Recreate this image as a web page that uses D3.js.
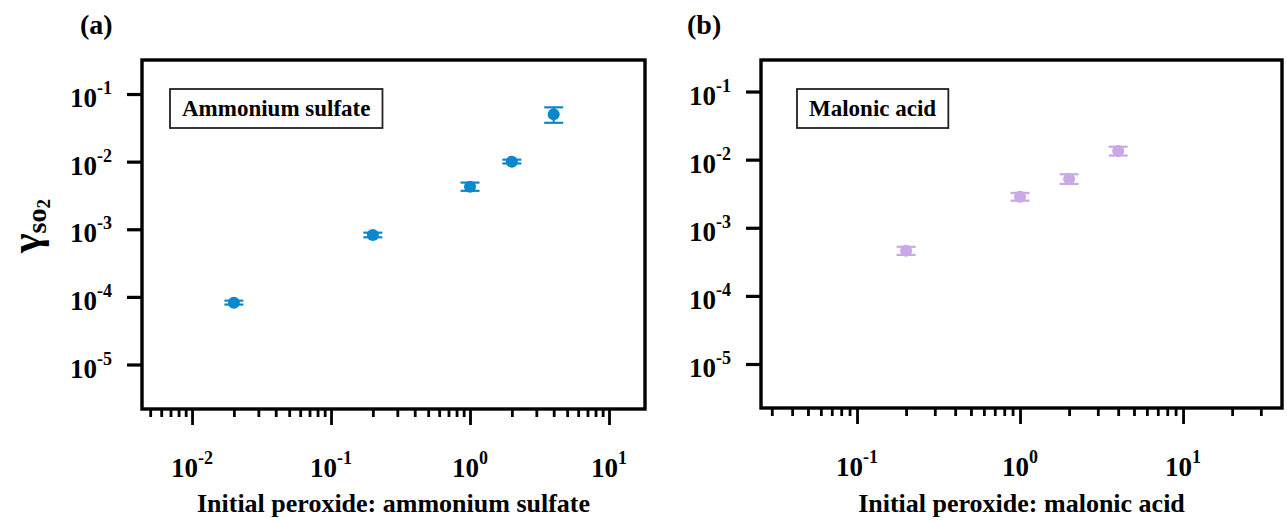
<!DOCTYPE html>
<html>
<head>
<meta charset="utf-8">
<script src="https://d3js.org/d3.v7.min.js"></script>
<style>
    body { margin: 0; background: #fff; }
    svg text { font-family: "Liberation Serif", "Times New Roman", serif; font-weight: bold; fill: #000; }
</style>
</head>
<body>
<div id="chart"></div>
<script>
// Data
const sulfateX = [0.02, 0.2, 1, 2, 4];
const sulfateY = [8.2e-5, 8.2e-4, 4.25e-3, 1.0e-2, 5.0e-2];
const sulfateLo = [7.7e-5, 7.6e-4, 3.7e-3, 9.4e-3, 3.75e-2];
const sulfateHi = [8.8e-5, 8.9e-4, 4.9e-3, 1.07e-2, 6.35e-2];

const malonicX = [0.2, 1, 2, 4];
const malonicY = [4.6e-4, 2.85e-3, 5.2e-3, 1.34e-2];
const malonicLo = [4.0e-4, 2.5e-3, 4.4e-3, 1.15e-2];
const malonicHi = [5.25e-4, 3.25e-3, 6.1e-3, 1.55e-2];

// Tick labels (powers of ten)
const yTickExps = [-1, -2, -3, -4, -5];
const sulfateXTickExps = [-2, -1, 0, 1];
const malonicXTickExps = [-1, 0, 1];

const W = 1287, H = 524;

const svg = d3.select("#chart")
    .append("svg")
    .attr("width", W)
    .attr("height", H);

const panels = [
    {
        letter: "(a)", letterX: 80,
        box: { left: 142, right: 645, top: 60, bottom: 409 },
        xDomain: [10 ** -2.36, 10 ** 1.259],
        yDomain: [10 ** -5.658, 10 ** -0.497],
        xExps: sulfateXTickExps,
        xs: sulfateX, ys: sulfateY, lo: sulfateLo, hi: sulfateHi,
        color: "#0b87cc",
        name: "Ammonium sulfate", nameX: 182,
        xTitle: "Initial peroxide: ammonium sulfate"
    },
    {
        letter: "(b)", letterX: 687,
        box: { left: 761, right: 1282, top: 60, bottom: 408 },
        xDomain: [10 ** -1.589, 10 ** 1.607],
        yDomain: [10 ** -5.646, 10 ** -0.537],
        xExps: malonicXTickExps,
        xs: malonicX, ys: malonicY, lo: malonicLo, hi: malonicHi,
        color: "#c9a8e6",
        name: "Malonic acid", nameX: 809,
        xTitle: "Initial peroxide: malonic acid"
    }
];

const isPow10 = v => Math.abs(Math.log10(v) - Math.round(Math.log10(v))) < 1e-6;

panels.forEach(p => {
    const b = p.box;
    const x = d3.scaleLog().domain(p.xDomain).range([b.left, b.right]);
    const y = d3.scaleLog().domain(p.yDomain).range([b.bottom, b.top]);
    const g = svg.append("g");

    // Minor x ticks
    const minor = x.ticks().filter(v => !isPow10(v) && x(v) > b.left + 3 && x(v) < b.right - 3);
    g.append("g")
        .attr("transform", `translate(0,${b.bottom})`)
        .call(d3.axisBottom(x).tickValues(minor).tickSize(8).tickFormat(""))
        .call(a => a.select(".domain").remove())
        .selectAll("line").attr("stroke", "#000").attr("stroke-width", 2.8);

    // Major x ticks
    const xMajor = p.xExps.map(e => 10 ** e);
    g.append("g")
        .attr("transform", `translate(0,${b.bottom})`)
        .call(d3.axisBottom(x).tickValues(xMajor).tickSize(16).tickFormat(""))
        .call(a => a.select(".domain").remove())
        .selectAll("line").attr("stroke", "#000").attr("stroke-width", 2.8);

    // Major y ticks
    const yMajor = yTickExps.map(e => 10 ** e);
    g.append("g")
        .attr("transform", `translate(${b.left},0)`)
        .call(d3.axisLeft(y).tickValues(yMajor).tickSize(15).tickFormat(""))
        .call(a => a.select(".domain").remove())
        .selectAll("line").attr("stroke", "#000").attr("stroke-width", 3.2);

    // X tick labels 10^n
    p.xExps.forEach(e => {
        const t = g.append("text")
            .attr("x", x(10 ** e))
            .attr("y", b.bottom + 68)
            .attr("text-anchor", "middle")
            .style("font-size", "27px");
        t.append("tspan").text("10");
        t.append("tspan").attr("dy", -13).style("font-size", "18px").text(String(e));
    });

    // Y tick labels 10^n
    yTickExps.forEach(e => {
        const t = g.append("text")
            .attr("x", b.left - 30)
            .attr("y", y(10 ** e) + 13)
            .attr("text-anchor", "end")
            .style("font-size", "27px");
        t.append("tspan").text("10");
        t.append("tspan").attr("dy", -13).style("font-size", "18px").text(String(e));
    });

    // Error bars and markers
    const pts = p.xs.map((v, i) => ({ x: v, y: p.ys[i], lo: p.lo[i], hi: p.hi[i] }));
    const mk = g.append("g").selectAll("g")
        .data(pts)
        .enter()
        .append("g");
    mk.append("line")
        .attr("x1", d => x(d.x)).attr("x2", d => x(d.x))
        .attr("y1", d => y(d.lo)).attr("y2", d => y(d.hi))
        .attr("stroke", p.color).attr("stroke-width", 2.2);
    ["lo", "hi"].forEach(k => {
        mk.append("line")
            .attr("x1", d => x(d.x) - 9.5).attr("x2", d => x(d.x) + 9.5)
            .attr("y1", d => y(d[k])).attr("y2", d => y(d[k]))
            .attr("stroke", p.color).attr("stroke-width", 2.2);
    });
    mk.append("circle")
        .attr("cx", d => x(d.x))
        .attr("cy", d => y(d.y))
        .attr("r", 6)
        .attr("fill", p.color);

    // Frame
    g.append("rect")
        .attr("x", b.left).attr("y", b.top)
        .attr("width", b.right - b.left).attr("height", b.bottom - b.top)
        .attr("fill", "none").attr("stroke", "#000").attr("stroke-width", 3.4);

    // Inset label box
    const labBox = g.append("rect")
        .attr("fill", "#fff").attr("stroke", "#222").attr("stroke-width", 1.8);
    const lab = g.append("text")
        .attr("x", p.nameX)
        .attr("y", 116)
        .style("font-size", "23px")
        .text(p.name);
    const bb = lab.node().getBBox();
    labBox
        .attr("x", bb.x - 12).attr("y", 89)
        .attr("width", bb.width + 24).attr("height", 39);

    // Panel letter
    g.append("text")
        .attr("x", p.letterX).attr("y", 34)
        .style("font-size", "28px")
        .text(p.letter);

    // X title
    g.append("text")
        .attr("x", (b.left + b.right) / 2)
        .attr("y", 512)
        .attr("text-anchor", "middle")
        .style("font-size", "26px")
        .text(p.xTitle);
});

// Y axis title: gamma SO2
const yt = svg.append("text")
    .attr("transform", "translate(40,226) rotate(-90)")
    .attr("text-anchor", "middle");
yt.append("tspan").style("font-size", "42px").text("γ");
yt.append("tspan").attr("dy", 6).style("font-size", "28px").text("so");
yt.append("tspan").attr("dy", 4).style("font-size", "19px").text("2");
</script>
</body>
</html>
